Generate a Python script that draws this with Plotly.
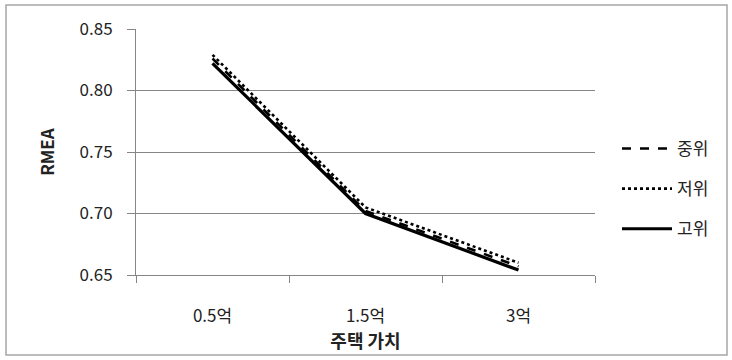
import plotly.graph_objects as go

categories = ["0.5억", "1.5억", "3억"]
series_names = ["중위", "저위", "고위"]
mid_vals = [0.826, 0.702, 0.657]
low_vals = [0.829, 0.705, 0.660]
high_vals = [0.822, 0.700, 0.654]
y_ticks = [0.65, 0.70, 0.75, 0.80, 0.85]
y_tick_text = ["0.65", "0.70", "0.75", "0.80", "0.85"]

FONT = "Noto Sans CJK KR"
W, H = 732, 360
ML, MR, MT, MB = 136, 137, 29, 85
PW, PH = W - ML - MR, H - MT - MB

fig = go.Figure()
styles = [("dash", 2.6), ("dot", 2.6), ("solid", 3.2)]
for name, vals, (dash, w) in zip(series_names, [mid_vals, low_vals, high_vals], styles):
    fig.add_trace(go.Scatter(
        x=categories, y=vals, name=name, mode="lines",
        line=dict(color="black", dash=dash, width=w),
        legendgroup=name,
    ))

def px_x(p):
    return (p - ML) / PW

def px_y(p):
    return (H - MB - p) / PH

fig.add_shape(type="rect", xref="paper", yref="paper",
              x0=px_x(6), x1=px_x(727), y0=px_y(355), y1=px_y(5),
              line=dict(color="#a6a6a6", width=1.5), layer="below")

fig.update_layout(
    width=W, height=H,
    margin=dict(l=ML, r=MR, t=MT, b=MB),
    paper_bgcolor="white", plot_bgcolor="white",
    font=dict(family=FONT, size=17, color="#222"),
    legend=dict(x=px_x(617), y=px_y(131), xanchor="left", yanchor="top",
                tracegroupgap=15, font=dict(size=17, color="#222"),
                bgcolor="rgba(0,0,0,0)", itemwidth=50),
    xaxis=dict(
        type="category", range=[-0.5, 2.5], tickson="boundaries",
        ticks="outside", ticklen=7, tickcolor="#868686",
        showline=True, linecolor="#868686", linewidth=1,
        showgrid=False, tickfont=dict(size=17, family=FONT),
        ticklabelstandoff=26,
        title=dict(text="<b>주택 가치</b>", font=dict(size=18, family=FONT), standoff=2),
    ),
    yaxis=dict(
        range=[0.65, 0.85], tickvals=y_ticks, ticktext=y_tick_text,
        ticks="outside", ticklen=8, tickcolor="#868686",
        showline=True, linecolor="#868686", linewidth=1,
        showgrid=True, gridcolor="#868686", gridwidth=1,
        zeroline=False, tickfont=dict(size=17, family=FONT),
        ticklabelstandoff=11,
        title=dict(text="<b>RMEA</b>", font=dict(size=17, family=FONT), standoff=20),
    ),
)

fig.write_html("out.html", config={"displayModeBar": False},
               post_script="document.body.style.margin='0';")
